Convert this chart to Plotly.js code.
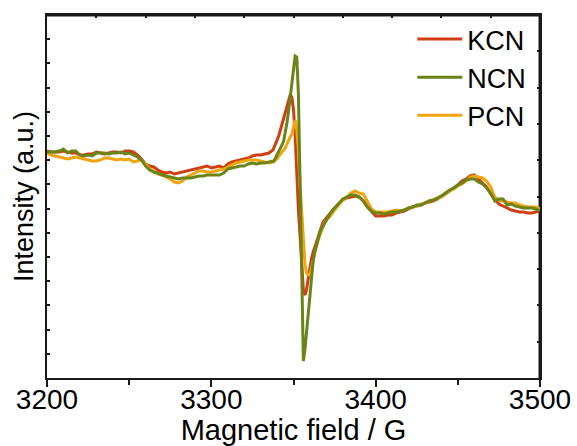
<!DOCTYPE html>
<html>
<head>
<meta charset="utf-8">
<script src="https://cdn.plot.ly/plotly-3.0.1.min.js"></script>
<style>
  html, body { margin: 0; padding: 0; background: #fff; }
  #chart { width: 577px; height: 446px; }
</style>
</head>
<body>
<div id="chart"></div>
<script>
// Magnetic field (G): 2.5 G steps on the wings, 1 G steps across the central line
const field = [
  3200, 3202.5, 3205, 3207.5, 3210, 3212.5, 3215, 3217.5, 3220, 3222.5,
  3225, 3227.5, 3230, 3232.5, 3235, 3237.5, 3240, 3242.5, 3245, 3247.5,
  3250, 3252.5, 3255, 3257.5, 3260, 3262.5, 3265, 3267.5, 3270, 3272.5,
  3275, 3277.5, 3280, 3282.5, 3285, 3287.5, 3290, 3292.5, 3295, 3297.5,
  3300, 3302.5, 3305, 3307.5, 3310, 3312.5, 3315, 3317.5, 3320, 3322.5,
  3325, 3327.5, 3330, 3332.5, 3335, 3337.5,
  3338, 3339, 3340, 3341, 3342, 3343, 3344, 3345, 3346, 3347,
  3348, 3349, 3350, 3351, 3352, 3353, 3354, 3355, 3356, 3357,
  3358, 3359, 3360, 3361, 3362, 3363, 3364, 3365, 3366, 3367,
  3368, 3369, 3370,
  3372.5, 3375, 3377.5, 3380, 3382.5, 3385, 3387.5, 3390, 3392.5, 3395,
  3397.5, 3400, 3402.5, 3405, 3407.5, 3410, 3412.5, 3415, 3417.5, 3420,
  3422.5, 3425, 3427.5, 3430, 3432.5, 3435, 3437.5, 3440, 3442.5, 3445,
  3447.5, 3450, 3452.5, 3455, 3457.5, 3460, 3462.5, 3465, 3467.5, 3470,
  3472.5, 3475, 3477.5, 3480, 3482.5, 3485, 3487.5, 3490, 3492.5, 3495,
  3497.5, 3500
];

// EPR intensity (a.u.)
const kcn = [
  227, 226, 226, 226, 227, 226, 225, 225, 223, 223,
  224, 224, 226, 225, 224, 225, 226, 226, 225, 227,
  227, 226, 223, 219, 214, 212, 211, 208, 206, 205,
  206, 204, 205, 206, 207, 208, 209, 210, 211, 212,
  210, 211, 212, 210, 214, 216, 217, 218, 219, 220,
  222, 223, 223, 224, 225, 228,
  230, 235, 238, 242, 248, 254, 259, 267, 273, 278,
  283, 281, 268, 243, 197, 168, 142, 116, 88, 83,
  89, 100, 112, 120, 126, 131, 137, 141, 146, 151,
  156, 158, 160,
  166, 170, 174, 178, 180, 181, 182, 181, 177, 171,
  166, 162, 162, 162, 163, 163, 165, 166, 167, 169,
  171, 172, 173, 175, 176, 177, 179, 182, 184, 187,
  190, 193, 197, 199, 202, 203, 199, 195, 191, 184,
  179, 174, 172, 170, 168, 167, 166, 166, 165, 165,
  166, 167
];

const ncn = [
  226, 226, 226, 227, 229, 225, 227, 227, 223, 222,
  223, 222, 225, 225, 225, 224, 225, 225, 226, 224,
  225, 223, 221, 218, 212, 208, 206, 205, 203, 202,
  201, 200, 199, 200, 200, 200, 201, 202, 202, 203,
  203, 203, 203, 205, 209, 210, 211, 212, 212, 214,
  215, 214, 215, 215, 216, 217,
  217, 220, 223, 226, 230, 233, 237, 245, 255, 267,
  281, 296, 312, 322, 321, 283, 196, 96, 17, 29,
  47, 72, 90, 105, 118, 127, 134, 140, 145, 149,
  152, 156, 158,
  165, 170, 174, 179, 181, 183, 183, 181, 177, 171,
  167, 165, 165, 164, 165, 166, 166, 167, 168, 170,
  171, 173, 173, 175, 177, 178, 180, 182, 185, 188,
  190, 193, 195, 198, 199, 199, 196, 194, 190, 185,
  177, 179, 179, 173, 174, 172, 171, 170, 170, 170,
  169, 167
];

const pcn = [
  225, 223, 222, 221, 220, 219, 220, 221, 220, 219,
  218, 217, 217, 218, 220, 220, 219, 218, 219, 218,
  219, 216, 217, 218, 214, 209, 207, 204, 203, 201,
  199, 196, 195, 197, 201, 203, 205, 207, 207, 206,
  206, 207, 208, 209, 211, 213, 215, 216, 217, 218,
  218, 218, 217, 216, 215, 216,
  216, 218, 219, 222, 224, 226, 228, 230, 234, 238,
  241, 244, 250, 258, 248, 228, 193, 163, 131, 113,
  105, 103, 103, 111, 118, 124, 132, 138, 143, 148,
  152, 156, 158,
  162, 168, 173, 178, 181, 185, 187, 185, 184, 176,
  169, 166, 166, 166, 166, 167, 168, 167, 168, 170,
  171, 172, 174, 175, 177, 178, 180, 181, 184, 187,
  189, 192, 194, 197, 201, 202, 201, 200, 197, 191,
  181, 178, 177, 176, 175, 175, 173, 172, 171, 171,
  171, 169
];

const seriesNames = ['KCN', 'NCN', 'PCN'];
const seriesColors = ['#cf3f12', '#6a8418', '#f2a40f'];

const FONT = 'Liberation Sans, Arial, sans-serif';
const AXIS_COLOR = '#1a1a1a';

const xRange = [3200, 3500];
const yRange = [0, 363];

function lineTrace(y, i, xa, ya) {
  return {
    x: field,
    y: y,
    name: seriesNames[i],
    type: 'scatter',
    mode: 'lines',
    line: { color: seriesColors[i], width: 3 },
    legendrank: i + 1,
    xaxis: xa,
    yaxis: ya
  };
}

// Top and right borders of the box, running along the axis range limits
const frameTrace = {
  x: [xRange[0], xRange[1], xRange[1]],
  y: [yRange[1], yRange[1], yRange[0]],
  type: 'scatter',
  mode: 'lines',
  line: { color: AXIS_COLOR, width: 3 },
  showlegend: false,
  hoverinfo: 'skip',
  xaxis: 'x',
  yaxis: 'y'
};

// Twin axes (top x, right y) share the main ranges and carry the frame ticks.
const data = [
  lineTrace(kcn, 0, 'x', 'y'),
  frameTrace,
  lineTrace(pcn, 2, 'x', 'y2'),
  lineTrace(ncn, 1, 'x2', 'y')
];

const layout = {
  width: 577,
  height: 446,
  margin: { l: 47, r: 37, t: 15, b: 68 },
  paper_bgcolor: '#fff',
  plot_bgcolor: '#fff',
  font: { family: FONT, color: '#000', size: 28 },
  showlegend: true,
  legend: {
    x: 0.741, xanchor: 'left',
    y: 1.0, yanchor: 'top',
    bgcolor: 'rgba(0,0,0,0)',
    borderwidth: 0,
    font: { family: FONT, size: 27, color: '#000' },
    itemwidth: 45,
    tracegroupgap: 0
  },
  xaxis: {
    range: xRange,
    tick0: 3200, dtick: 100,
    ticks: 'outside', ticklen: 7, tickwidth: 1.5, tickcolor: AXIS_COLOR,
    minor: { dtick: 50, ticks: 'outside', ticklen: 5, tickwidth: 1.5, tickcolor: AXIS_COLOR },
    ticklabelstandoff: -11,
    showline: true, mirror: true, linecolor: AXIS_COLOR, linewidth: 1.5,
    showgrid: false, zeroline: false,
    tickfont: { family: FONT, size: 28, color: '#000' },
    title: { text: 'Magnetic field / G', font: { family: FONT, size: 29, color: '#000' }, standoff: 0 }
  },
  yaxis: {
    range: yRange,
    tick0: 0, dtick: 24.2,
    ticks: 'inside', ticklen: 3, tickwidth: 1.5, tickcolor: AXIS_COLOR,
    showticklabels: false,
    showline: true, mirror: true, linecolor: AXIS_COLOR, linewidth: 1.5,
    showgrid: false, zeroline: false,
    title: { text: 'Intensity (a.u.)', font: { family: FONT, size: 27, color: '#000' }, standoff: 4 }
  },
  xaxis2: {
    overlaying: 'x', side: 'top', anchor: 'y',
    range: xRange,
    tick0: 3200, dtick: 30,
    ticks: 'inside', ticklen: 3, tickwidth: 1.5, tickcolor: AXIS_COLOR,
    showticklabels: false,
    showline: false,
    showgrid: false, zeroline: false
  },
  yaxis2: {
    overlaying: 'y', side: 'right', anchor: 'x',
    range: yRange,
    tick0: 0, dtick: 36.3,
    ticks: 'inside', ticklen: 3, tickwidth: 1.5, tickcolor: AXIS_COLOR,
    showticklabels: false,
    showline: false,
    showgrid: false, zeroline: false
  }
};

Plotly.newPlot('chart', data, layout, { displayModeBar: false });
</script>
</body>
</html>
